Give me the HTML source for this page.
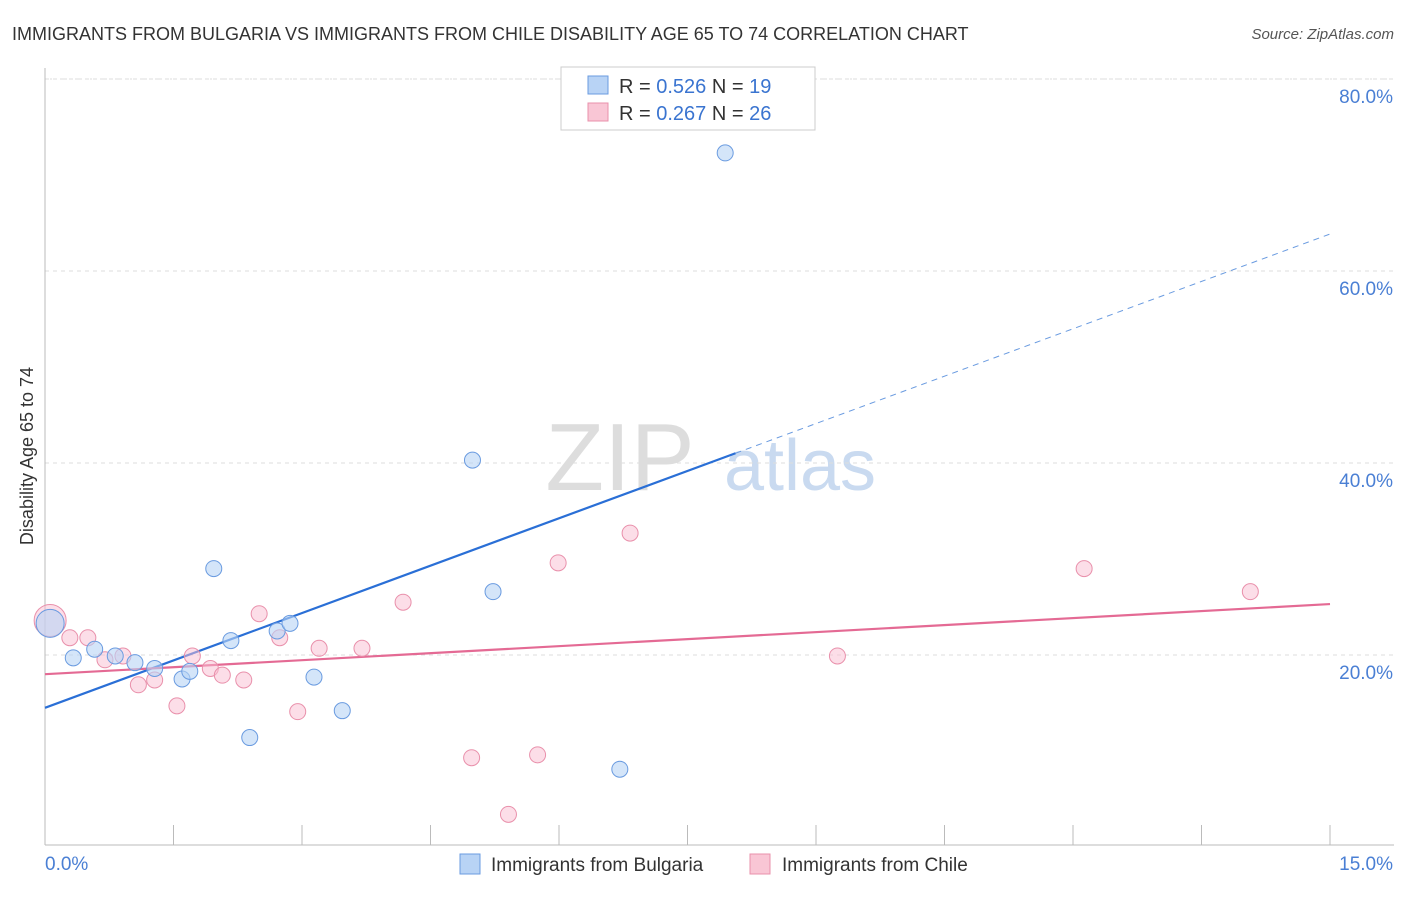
<!DOCTYPE html>
<html><head><meta charset="utf-8"><style>
body{margin:0;background:#fff;font-family:"Liberation Sans",sans-serif;}
svg text{font-family:"Liberation Sans",sans-serif;}
</style></head><body>
<svg id="chart" width="1406" height="892" xmlns="http://www.w3.org/2000/svg">
<text x="12" y="40" font-size="18" fill="#333">IMMIGRANTS FROM BULGARIA VS IMMIGRANTS FROM CHILE DISABILITY AGE 65 TO 74 CORRELATION CHART</text>
<text x="1394" y="39" font-size="15" fill="#555" font-style="italic" text-anchor="end">Source: ZipAtlas.com</text>
<text x="620" y="490" font-size="96" fill="#ddd" font-family="Liberation Serif" text-anchor="middle">ZIP</text>
<text x="800" y="490" font-size="72" fill="#c9daf0" text-anchor="middle">atlas</text>
<text transform="translate(33,456) rotate(-90)" font-size="18" fill="#333" text-anchor="middle">Disability Age 65 to 74</text>
<g id="grid"></g><g id="axes"></g><g id="lines"></g><g id="pts"></g>
<g>
<rect x="561" y="67" width="254" height="63" fill="#fff" stroke="#ccc"/>
<rect x="588" y="76" width="20" height="18" fill="#b8d3f5" stroke="#6a9be0"/>
<text x="619" y="93" font-size="20" fill="#333">R = <tspan fill="#3a74d0">0.526</tspan>   N = <tspan fill="#3a74d0">19</tspan></text>
<rect x="588" y="103" width="20" height="18" fill="#f9c6d5" stroke="#e990ab"/>
<text x="619" y="120" font-size="20" fill="#333">R = <tspan fill="#3a74d0">0.267</tspan>   N = <tspan fill="#3a74d0">26</tspan></text>
</g>
<g>
<rect x="460" y="854" width="20" height="20" fill="#b8d3f5" stroke="#6a9be0"/>
<text x="491" y="871" font-size="19" fill="#333">Immigrants from Bulgaria</text>
<rect x="750" y="854" width="20" height="20" fill="#f9c6d5" stroke="#e990ab"/>
<text x="782" y="871" font-size="19" fill="#333">Immigrants from Chile</text>
</g>
</svg>
<script>
const bulgariaX=[0.06,0.33,0.58,0.82,1.05,1.28,1.60,1.69,1.97,2.17,2.39,2.71,2.86,3.14,3.47,4.99,5.23,6.71,7.94];
const bulgariaY=[23.3,19.7,20.6,19.9,19.2,18.6,17.5,18.3,29.0,21.5,11.4,22.5,23.3,17.7,14.2,40.3,26.6,8.1,72.3];
const chileX=[0.06,0.29,0.50,0.70,0.91,1.09,1.28,1.54,1.72,1.93,2.07,2.32,2.50,2.74,2.95,3.20,3.70,4.18,4.98,5.41,5.75,5.99,6.83,9.25,12.13,14.07];
const chileY=[23.6,21.8,21.8,19.5,19.9,16.9,17.4,14.7,19.9,18.6,17.9,17.4,24.3,21.8,14.1,20.7,20.7,25.5,9.3,3.4,9.6,29.6,32.7,19.9,29.0,26.6];
const yTicks=[20,40,60,80];
const yTickLabels=["20.0%","40.0%","60.0%","80.0%"];
const xTicks=[0,1.5,3,4.5,6,7.5,9,10.5,12,13.5,15];
const bulgariaLine=[14.5,3.29,8.06];
const chileLine=[18.0,0.487];
const NS="http://www.w3.org/2000/svg";
const X=v=>45+v/15*1285, Y=v=>847-v*9.6;
function mk(p,tag,a){const e=document.createElementNS(NS,tag);for(const k in a)e.setAttribute(k,a[k]);document.getElementById(p).appendChild(e);return e;}
let e=mk('grid','line',{x1:45,x2:1394,y1:79,y2:79,stroke:'#ddd','stroke-dasharray':'2,3'});

yTicks.forEach((t,i)=>{
 let g=mk('grid','line',{x1:45,x2:1394,y1:Y(t),y2:Y(t),stroke:'#ddd','stroke-dasharray':'4,4'});
 
 let l=mk('axes','text',{x:1393,y:Y(t)+24,'font-size':19,fill:'#4a7fd4','text-anchor':'end'});
 l.textContent=yTickLabels[i];
 
});
e=mk('axes','line',{x1:45,x2:45,y1:68,y2:845,stroke:'#bbb'});

e=mk('axes','line',{x1:45,x2:1394,y1:845,y2:845,stroke:'#bbb'});

xTicks.forEach(t=>{let k=mk('axes','line',{x1:X(t),x2:X(t),y1:825,y2:845,stroke:'#bbb'});
 });
e=mk('axes','text',{x:45,y:870,'font-size':19,fill:'#4a7fd4'});e.textContent='0.0%';

e=mk('axes','text',{x:1393,y:870,'font-size':19,fill:'#4a7fd4','text-anchor':'end'});e.textContent='15.0%';

const [bi,bs,be]=bulgariaLine;
e=mk('lines','line',{x1:X(0),y1:Y(bi),x2:X(be),y2:Y(bi+bs*be),stroke:'#2a6fd6','stroke-width':2.2});

e=mk('lines','line',{x1:X(be),y1:Y(bi+bs*be),x2:X(15),y2:Y(bi+bs*15),stroke:'#6a9be0','stroke-width':1,'stroke-dasharray':'6,5'});

e=mk('lines','line',{x1:X(0),y1:Y(chileLine[0]),x2:X(15),y2:Y(chileLine[0]+chileLine[1]*15),stroke:'#e46a94','stroke-width':2.2});

chileX.forEach((x,i)=>{let c=mk('pts','circle',{cx:X(x),cy:Y(chileY[i]),r:i==0?16:8,fill:'rgba(249,190,210,0.5)',stroke:'#e990ab','stroke-width':1});
 });
bulgariaX.forEach((x,i)=>{let c=mk('pts','circle',{cx:X(x),cy:Y(bulgariaY[i]),r:i==0?14:8,fill:'rgba(184,211,245,0.6)',stroke:'#6a9be0','stroke-width':1});
 });
</script>
</body></html>
